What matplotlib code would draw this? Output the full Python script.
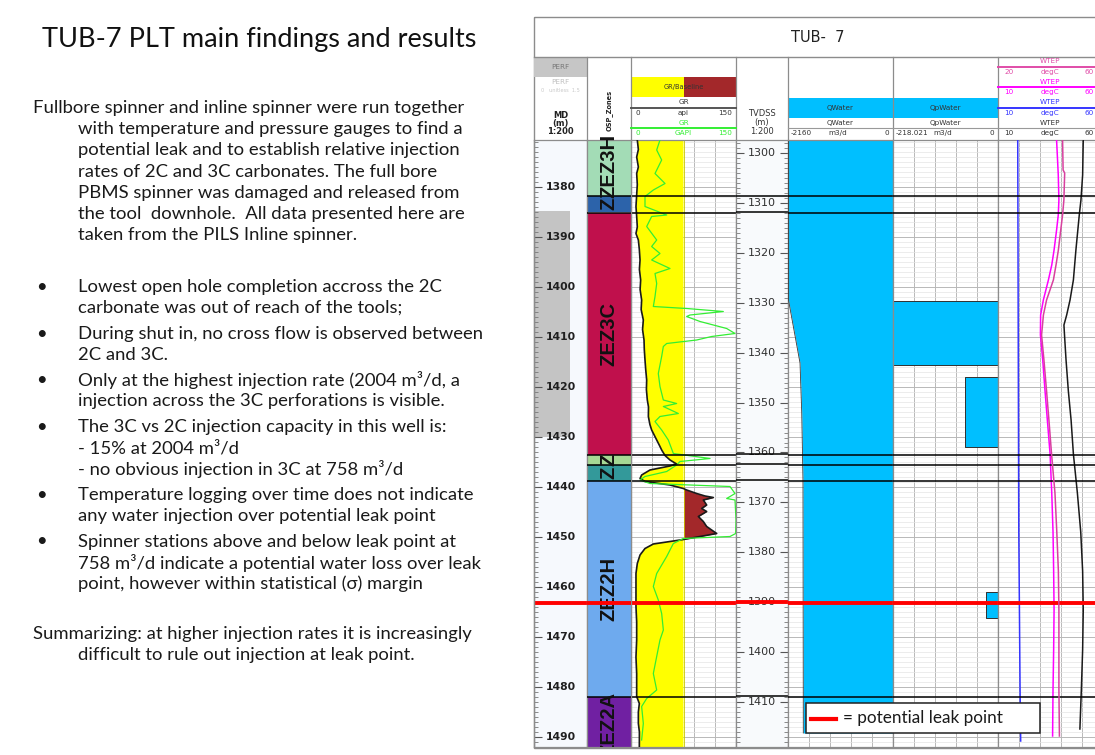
import matplotlib
matplotlib.use("Agg")
import matplotlib.pyplot as plt
import numpy as np
from matplotlib.patches import Rectangle

W, H = 1095, 755
BODY_FONT = ["Lato", "DejaVu Sans"]
ZONE_FONT = ["Liberation Sans Narrow", "Liberation Sans", "DejaVu Sans"]
HDR = "DejaVu Sans"

# ---------------- slide text ----------------
title_text = "TUB-7 PLT main findings and results"
intro_lines = [
    "Fullbore spinner and inline spinner were run together",
    "with temperature and pressure gauges to find a",
    "potential leak and to establish relative injection",
    "rates of 2C and 3C carbonates. The full bore",
    "PBMS spinner was damaged and released from",
    "the tool  downhole.  All data presented here are",
    "taken from the PILS Inline spinner.",
]
bullets = [
    ["Lowest open hole completion accross the 2C",
     "carbonate was out of reach of the tools;"],
    ["During shut in, no cross flow is observed between",
     "2C and 3C."],
    ["Only at the highest injection rate (2004 m\u00b3/d, a",
     "injection across the 3C perforations is visible."],
    ["The 3C vs 2C injection capacity in this well is:",
     "- 15% at 2004 m\u00b3/d",
     "- no obvious injection in 3C at 758 m\u00b3/d"],
    ["Temperature logging over time does not indicate",
     "any water injection over potential leak point"],
    ["Spinner stations above and below leak point at",
     "758 m\u00b3/d indicate a potential water loss over leak",
     "point, however within statistical (\u03c3) margin"],
]
summary_lines = [
    "Summarizing: at higher injection rates it is increasingly",
    "difficult to rule out injection at leak point.",
]

# ---------------- log data (depths in MD, m) ----------------
MD_TOP, MD_BOT = 1370.6, 1492.0
TVD_SHIFT = 73.2          # MD - TVDSS
md_labels = list(range(1380, 1500, 10))
tvd_labels = list(range(1300, 1420, 10))
leak_md = 1463.2

perf_top, perf_base = 1384.8, 1430.0

zone_tops = [1369.8, 1381.8, 1385.1, 1433.6, 1435.6, 1438.7, 1482.0]
zone_bases = [1381.8, 1385.1, 1433.6, 1435.6, 1438.7, 1482.0, 1492.6]
zone_names = ["ZEZ3H", "Z", "ZEZ3C", "Z", "Z", "ZEZ2H", "ZEZ2A"]
zone_colors = ["#a3dcb6", "#2c63aa", "#c0104c", "#a6d894", "#33999a", "#6eaaee", "#7020a2"]

GR_BASE = 75.0
gr_md = [1370.6, 1372.5, 1374.0, 1376.0, 1377.3, 1379.5, 1381.6, 1383.9, 1385.9, 1388.0,
         1389.3, 1390.6, 1392.5, 1394.6, 1396.5, 1398.6, 1400.5, 1402.6, 1404.5, 1406.6,
         1408.5, 1410.6, 1412.5, 1414.6, 1416.5, 1418.6, 1420.5, 1422.6, 1424.0, 1425.9,
         1427.5, 1428.6, 1430.6, 1431.9, 1432.6, 1433.7, 1434.6, 1435.4, 1435.8, 1436.6,
         1437.6, 1438.3, 1438.9, 1439.6, 1440.3, 1440.6, 1441.3, 1441.8, 1442.1, 1442.6,
         1443.6, 1444.3, 1444.9, 1445.9, 1446.9, 1447.9, 1448.6, 1449.3, 1449.9, 1450.5,
         1450.9, 1451.4, 1452.3, 1453.6, 1455.3, 1457.3, 1460.6, 1463.9, 1467.0, 1470.6,
         1474.0, 1477.3, 1481.9, 1483.3, 1485.0, 1487.3, 1489.0, 1492.0]
gr_api = [9.0, 10.5, 8.1, 10.5, 8.1, 9.0, 8.1, 7.1, 8.1, 9.0,
          7.1, 10.5, 11.9, 12.9, 12.0, 13.8, 13.0, 15.2, 14.5, 17.6,
          16.5, 18.6, 19.0, 20.0, 21.0, 22.4, 22.0, 23.3, 25.0, 24.8,
          27.0, 29.5, 36.7, 41.4, 43.8, 48.6, 55.7, 65.2, 55.7, 27.1,
          15.2, 12.9, 20.0, 55.7, 74.8, 79.5, 93.8, 105.7, 117.6, 103.3,
          108.1, 100.9, 108.1, 96.2, 103.3, 108.1, 115.2, 122.4, 98.6, 74.8,
          55.7, 31.9, 20.0, 12.9, 9.0, 7.1, 7.1, 7.1, 8.1, 8.1,
          7.1, 8.1, 8.1, 11.9, 10.5, 10.5, 12.0, 11.9]

grg_md = [1370.6, 1372.6, 1374.6, 1377.3, 1379.3, 1380.6, 1381.9, 1383.9, 1385.6, 1385.9,
          1387.9, 1390.6, 1391.9, 1393.3, 1394.6, 1396.3, 1397.3, 1399.3, 1401.9, 1403.9,
          1404.3, 1404.9, 1405.6, 1405.9, 1406.9, 1408.3, 1409.3, 1409.9, 1410.6, 1411.3,
          1411.9, 1413.9, 1417.3, 1419.9, 1422.6, 1423.3, 1423.9, 1425.3, 1425.9, 1426.9,
          1428.6, 1430.6, 1433.3, 1434.3, 1434.9, 1435.6, 1436.9, 1437.9, 1438.6, 1439.3,
          1439.9, 1441.3, 1442.3, 1442.6, 1446.6, 1449.3, 1449.9, 1450.3, 1451.3, 1453.9,
          1457.3, 1459.9, 1462.6, 1465.3, 1468.6, 1470.6, 1473.9, 1477.3, 1480.6, 1482.3,
          1483.9, 1487.3, 1490.6]
grg_api = [41.4, 36.7, 43.8, 34.3, 48.6, 31.9, 20.0, 20.0, 51.0, 29.5,
           22.4, 36.7, 29.5, 41.4, 29.5, 55.7, 34.3, 36.7, 34.3, 31.9,
           79.5, 131.9, 84.3, 79.5, 98.6, 136.7, 148.6, 115.2, 93.8, 51.0,
           46.2, 43.8, 39.0, 41.4, 46.2, 65.2, 46.2, 67.6, 41.4, 34.3,
           43.8, 53.3, 60.5, 112.9, 70.0, 65.2, 51.0, 20.0, 12.9, 27.1,
           141.4, 148.6, 136.7, 148.6, 150.0, 149.5, 141.4, 74.8, 60.5, 51.0,
           36.7, 31.9, 39.0, 43.8, 46.2, 41.4, 36.7, 31.9, 36.7, 22.4,
           15.2, 17.6, 15.2]

qw_md = [1370.6, 1402.6, 1415.2, 1425.0, 1438.6, 1489.2]
qw_rate = [-2150, -2150, -1913, -1878, -1852, -1845]

qp_tops = [1402.7, 1418.0, 1461.0]
qp_bases = [1415.6, 1432.0, 1466.2]
qp_rates = [-217.0, -68.5, -25.5]

mag_md = [1370.6, 1377.6, 1382.6, 1385.6, 1388.6, 1392.6, 1395.6, 1398.6, 1402.6, 1405.6,
          1409.6, 1414.6, 1420.8, 1426.6, 1433.4, 1441.2, 1449.0, 1456.8, 1464.6, 1472.6,
          1480.4, 1489.8]
mag_t = [37.9, 38.7, 39.0, 38.7, 37.9, 36.7, 35.6, 34.0, 31.6, 30.3,
         30.2, 31.3, 32.4, 33.5, 34.8, 35.6, 36.2, 36.5, 36.7, 36.5,
         36.2, 36.0]
pink_md = [1370.6, 1376.6, 1377.2, 1382.6, 1385.6, 1388.6, 1392.6, 1395.6, 1398.6, 1402.6,
           1405.6, 1409.6, 1414.6, 1420.8, 1426.6, 1433.4, 1441.2, 1449.0, 1456.8, 1464.6,
           1472.6, 1480.4, 1489.8]
pink_t = [44.6, 44.8, 45.4, 45.1, 44.6, 43.9, 43.0, 42.1, 41.1, 38.5,
          37.3, 36.6, 37.5, 38.5, 39.4, 40.4, 41.7, 42.4, 43.0, 43.2,
          43.2, 43.2, 43.4]
blk_md = [1370.6, 1377.6, 1382.6, 1385.6, 1392.6, 1398.6, 1402.6, 1405.6, 1407.6, 1409.8,
          1414.6, 1420.8, 1426.6, 1433.4, 1441.2, 1449.0, 1456.8, 1464.6, 1472.6, 1480.4,
          1488.4]
blk_t = [50.6, 50.3, 49.5, 48.7, 47.1, 45.9, 44.3, 42.7, 41.4, 41.7,
         42.4, 43.5, 44.8, 45.9, 47.8, 49.4, 50.3, 50.6, 50.3, 49.7,
         49.0]
blue_md = [1370.6, 1420.0, 1449.0, 1480.0, 1490.8]
blue_t = [19.4, 19.7, 19.9, 20.5, 20.8]

# ---------------- layout (pixels) ----------------
Y0, Y1 = 140, 747
X_MD, X_ZONE, X_GR, X_TVD = (534, 587), (587, 631), (631, 736), (736, 788)
X_QW, X_QP, X_TMP = (788, 893), (893, 998), (998, 1103)
GRID_C = "#b8b8b8"
BORDER_C = "#8c8c8c"
BODY_FS = 13.3

fig = plt.figure(figsize=(W / 100, H / 100), dpi=100)
fig.patch.set_facecolor("white")


def track(xr, zorder=1):
    ax = fig.add_axes([xr[0] / W, 1 - Y1 / H, (xr[1] - xr[0]) / W, (Y1 - Y0) / H], zorder=zorder)
    ax.set_ylim(MD_BOT, MD_TOP)
    for s in ax.spines.values():
        s.set_color(BORDER_C)
        s.set_linewidth(0.9)
    ax.tick_params(which="both", length=0, labelleft=False, labelbottom=False)
    return ax


def grid(ax, xt):
    ax.set_xticks(xt)
    ax.set_yticks(np.arange(1380, 1500, 10))
    ax.set_yticks(np.arange(1371, 1492, 1), minor=True)
    ax.tick_params(which="both", length=0, labelleft=False, labelbottom=False)
    ax.grid(which="major", color=GRID_C, lw=0.7)
    ax.grid(which="minor", axis="y", color="#e4e4e4", lw=0.5)
    ax.set_axisbelow(True)


def depth_lines(ax):
    for b in zone_bases[:-1]:
        ax.axhline(b, color="black", lw=1.1, zorder=6)
    ax.axhline(leak_md, color="#ff0000", lw=2.8, zorder=8)


# MD track
ax_md = track(X_MD)
ax_md.set_facecolor("#f6f9fd")
ax_md.set_xlim(0, 1)
ax_md.axhspan(perf_top, perf_base, xmin=0.02, xmax=0.68, color="#c4c4c4", lw=0)
ax_md.set_yticks(md_labels)
ax_md.set_yticks(np.arange(1371, 1492, 1), minor=True)
ax_md.tick_params(which="major", left=True, length=6, direction="in", color="#555555", labelleft=False)
ax_md.tick_params(which="minor", left=True, length=3, direction="in", color="#777777")
for m in md_labels:
    ax_md.text(0.51, m, str(m), ha="center", va="center", fontsize=7.8,
               fontweight="bold", family=HDR, color="#202020")
ax_md.axhline(leak_md, color="#ff0000", lw=2.8, zorder=8)

# Zones track
ax_z = track(X_ZONE, zorder=2)
ax_z.set_xlim(0, 1)
for top, base, name, col in zip(zone_tops, zone_bases, zone_names, zone_colors):
    ax_z.axhspan(top, base, color=col, lw=0)
    ax_z.text(0.5, (top + base) / 2, name, rotation=90, ha="center", va="center",
              fontsize=14.5, fontweight="bold", family=ZONE_FONT, color="#111111",
              clip_on=base > MD_BOT, zorder=7)
depth_lines(ax_z)

# GR track
ax_gr = track(X_GR)
ax_gr.set_xlim(0, 150)
grid(ax_gr, [30, 60, 90, 120])
gm, ga = np.array(gr_md), np.array(gr_api)
ax_gr.fill_betweenx(gm, ga, GR_BASE, where=ga <= GR_BASE, interpolate=True, color="#ffff00", lw=0, zorder=2)
ax_gr.fill_betweenx(gm, ga, GR_BASE, where=ga >= GR_BASE, interpolate=True, color="#a3282a", lw=0, zorder=2)
ax_gr.axvline(GR_BASE, color="#c8c800", lw=0.6, zorder=2)
ax_gr.plot(ga, gm, color="#1a1a1a", lw=1.2, zorder=4)
ax_gr.plot(grg_api, grg_md, color="#33ee33", lw=0.9, zorder=4)
depth_lines(ax_gr)

# TVDSS track
ax_tv = track(X_TVD)
ax_tv.set_facecolor("#f8fafc")
ax_tv.set_xlim(0, 1)
tv_pos = [t + TVD_SHIFT for t in tvd_labels]
ax_tv.set_yticks(tv_pos)
ax_tv.set_yticks([t + TVD_SHIFT for t in range(1298, 1420)], minor=True)
ax_tv.tick_params(which="major", left=True, right=True, length=6, direction="in", color="#555555",
                  labelleft=False)
ax_tv.tick_params(which="minor", left=True, right=True, length=3, direction="in", color="#777777")
for t, p in zip(tvd_labels, tv_pos):
    ax_tv.text(0.5, p, str(t), ha="center", va="center", fontsize=8, family=HDR, color="#303030")
depth_lines(ax_tv)

# QWater track
ax_qw = track(X_QW)
ax_qw.set_xlim(-2160, 0)
grid(ax_qw, np.linspace(-2160, 0, 6)[1:-1])
ax_qw.fill_betweenx(qw_md, qw_rate, 0, color="#00bfff", lw=0, zorder=2)
ax_qw.plot(qw_rate, qw_md, color="#3a3a3a", lw=0.6, zorder=3)
depth_lines(ax_qw)

# QpWater track
ax_qp = track(X_QP)
ax_qp.set_xlim(-218.021, 0)
grid(ax_qp, np.linspace(-218.021, 0, 6)[1:-1])
for top, base, rate in zip(qp_tops, qp_bases, qp_rates):
    ax_qp.fill_betweenx([top, base], rate, 0, facecolor="#00bfff", edgecolor="#303030", lw=0.7, zorder=2)
depth_lines(ax_qp)

# Temperature track
ax_t = track(X_TMP)
ax_t.set_xlim(10, 60)
grid(ax_t, [20, 30, 40, 50])
ax_t.plot(blue_t, blue_md, color="#3535ff", lw=1.1, zorder=3)
ax_t.plot(mag_t, mag_md, color="#ff00ff", lw=1.1, zorder=3)
ax_t.plot(blk_t, blk_md, color="#1a1a1a", lw=1.1, zorder=3)
depth_lines(ax_t)
ax_t2 = fig.add_axes(ax_t.get_position(), zorder=2, frameon=False)
ax_t2.set_xlim(20, 60)
ax_t2.set_ylim(MD_BOT, MD_TOP)
ax_t2.set_xticks([])
ax_t2.set_yticks([])
ax_t2.plot(pink_t, pink_md, color="#d8409f", lw=1.1)

# ---------------- overlay canvas (pixel coords) ----------------
cv = fig.add_axes([0, 0, 1, 1], zorder=10)
cv.set_xlim(0, W)
cv.set_ylim(H, 0)
cv.axis("off")


def hline(y, x0, x1, **kw):
    cv.plot([x0, x1], [y, y], **kw)


# slide text
cv.text(42, 40, title_text, fontsize=19.5, family=BODY_FONT, color="#111111", va="center")
for i, line in enumerate(intro_lines):
    cv.text(33 if i == 0 else 78, 108 + i * 21.2, line, fontsize=BODY_FS, family=BODY_FONT,
            color="#1a1a1a", va="center")
y = 287
for item in bullets:
    cv.text(36, y, "\u2022", fontsize=BODY_FS, family=BODY_FONT, color="#1a1a1a", va="center")
    for k, line in enumerate(item):
        cv.text(78, y + k * 21, line, fontsize=BODY_FS, family=BODY_FONT, color="#1a1a1a", va="center")
    y += len(item) * 21 + 4.7
for i, line in enumerate(summary_lines):
    cv.text(33 if i == 0 else 78, 634 + i * 21, line, fontsize=BODY_FS, family=BODY_FONT,
            color="#1a1a1a", va="center")

# panel frame and header
cv.add_patch(Rectangle((534, 17), 600, 731, fill=False, ec=BORDER_C, lw=1))
hline(57, 534, W, color=BORDER_C, lw=1)
for xb in [587, 631, 736, 788, 893, 998]:
    cv.plot([xb, xb], [57, 140], color=BORDER_C, lw=0.9)
cv.text(818, 38, "TUB-  7", fontsize=10.5, family=HDR, ha="center", va="center", color="#222222")

fs = 5.2
# MD header
cv.add_patch(Rectangle((534, 57), 53, 20, color="#c6c6c6", lw=0))
cv.text(560.5, 67, "PERF", fontsize=fs, family=HDR, ha="center", va="center", color="#777777")
cv.text(560.5, 81.5, "PERF", fontsize=fs, family=HDR, ha="center", va="center", color="#c0c0c0")
cv.text(560.5, 91, "0   unitless  1.5", fontsize=3.6, family=HDR, ha="center", va="center", color="#c8c8c8")
for txt, yy in [("MD", 116), ("(m)", 123.5), ("1:200", 131.5)]:
    cv.text(560.5, yy, txt, fontsize=6, family=HDR, fontweight="bold", ha="center", va="center",
            color="#222222")
# Zones header
cv.text(609, 110, "OSP_Zones", rotation=90, fontsize=4.8, family=HDR, fontweight="bold",
        ha="center", va="center", color="#222222")
# GR header
cv.add_patch(Rectangle((631, 77), 53, 20, color="#ffff00", lw=0))
cv.add_patch(Rectangle((684, 77), 52, 20, color="#a3282a", lw=0))
cv.text(683.5, 87, "GR/Baseline", fontsize=4.8, family=HDR, ha="center", va="center", color="#333333")
cv.text(683.5, 102, "GR", fontsize=fs, family=HDR, ha="center", va="center", color="#333333")
hline(107.7, 631, 736, color="#555555", lw=1.4)
cv.text(636, 113, "0", fontsize=fs, family=HDR, va="center", color="#333333")
cv.text(683.5, 113, "api", fontsize=fs, family=HDR, ha="center", va="center", color="#333333")
cv.text(732, 113, "150", fontsize=fs, family=HDR, ha="right", va="center", color="#333333")
cv.text(683.5, 123, "GR", fontsize=fs, family=HDR, ha="center", va="center", color="#33ee33")
hline(128.3, 631, 736, color="#33ee33", lw=1.4)
cv.text(636, 133.3, "0", fontsize=fs, family=HDR, va="center", color="#33ee33")
cv.text(683.5, 133.3, "GAPI", fontsize=fs, family=HDR, ha="center", va="center", color="#33ee33")
cv.text(732, 133.3, "150", fontsize=fs, family=HDR, ha="right", va="center", color="#33ee33")
# TVDSS header
for txt, yy in [("TVDSS", 114), ("(m)", 122.5), ("1:200", 131.5)]:
    cv.text(762, yy, txt, fontsize=6, family=HDR, ha="center", va="center", color="#333333")
# QWater / QpWater headers
for (x0, x1), name, lo in [(X_QW, "QWater", "-2160"), (X_QP, "QpWater", "-218.021")]:
    xc = (x0 + x1) / 2
    cv.add_patch(Rectangle((x0, 97.7), x1 - x0, 20, color="#00bfff", lw=0))
    cv.text(xc, 107.7, name, fontsize=fs, family=HDR, ha="center", va="center", color="#333333")
    cv.text(xc, 123, name, fontsize=fs, family=HDR, ha="center", va="center", color="#333333")
    hline(128.3, x0, x1, color="#999999", lw=0.8)
    cv.text(x0 + 3, 133.3, lo, fontsize=fs, family=HDR, va="center", color="#333333")
    cv.text(xc - 3, 133.3, "m3/d", fontsize=fs, family=HDR, ha="center", va="center", color="#333333")
    cv.text(x1 - 4, 133.3, "0", fontsize=fs, family=HDR, ha="right", va="center", color="#333333")
# Temperature header (track is cut by the slide edge; scale end "60" sits at the edge)
tmp_hdr = [(61, 66.7, 71.7, "20", "#e04ca8"), (81.7, 86.7, 92, "10", "#ff00ff"),
           (102.3, 107.7, 112.7, "10", "#3535ff"), (122.7, 128.3, 133.3, "10", "#333333")]
for yn, yl, ys, lo, col in tmp_hdr:
    cv.text(1050, yn, "WTEP", fontsize=fs, family=HDR, ha="center", va="center", color=col)
    hline(yl, 998, W, color=col if col != "#333333" else "#999999", lw=1.4 if col != "#333333" else 0.8)
    cv.text(1004, ys, lo, fontsize=fs, family=HDR, va="center", color=col)
    cv.text(1050, ys, "degC", fontsize=fs, family=HDR, ha="center", va="center", color=col)
    cv.text(1094, ys, "60", fontsize=fs, family=HDR, ha="right", va="center", color=col)

# legend box
cv.add_patch(Rectangle((806, 703), 234, 30, fc="white", ec="#222222", lw=1.1, zorder=12))
hline(718.5, 811, 836, color="#ff0000", lw=3, zorder=13)
cv.text(843, 718, "= potential leak point", fontsize=12.3, family=BODY_FONT, va="center",
        color="#1a1a1a", zorder=13)

fig.savefig("out.png", dpi=100)
